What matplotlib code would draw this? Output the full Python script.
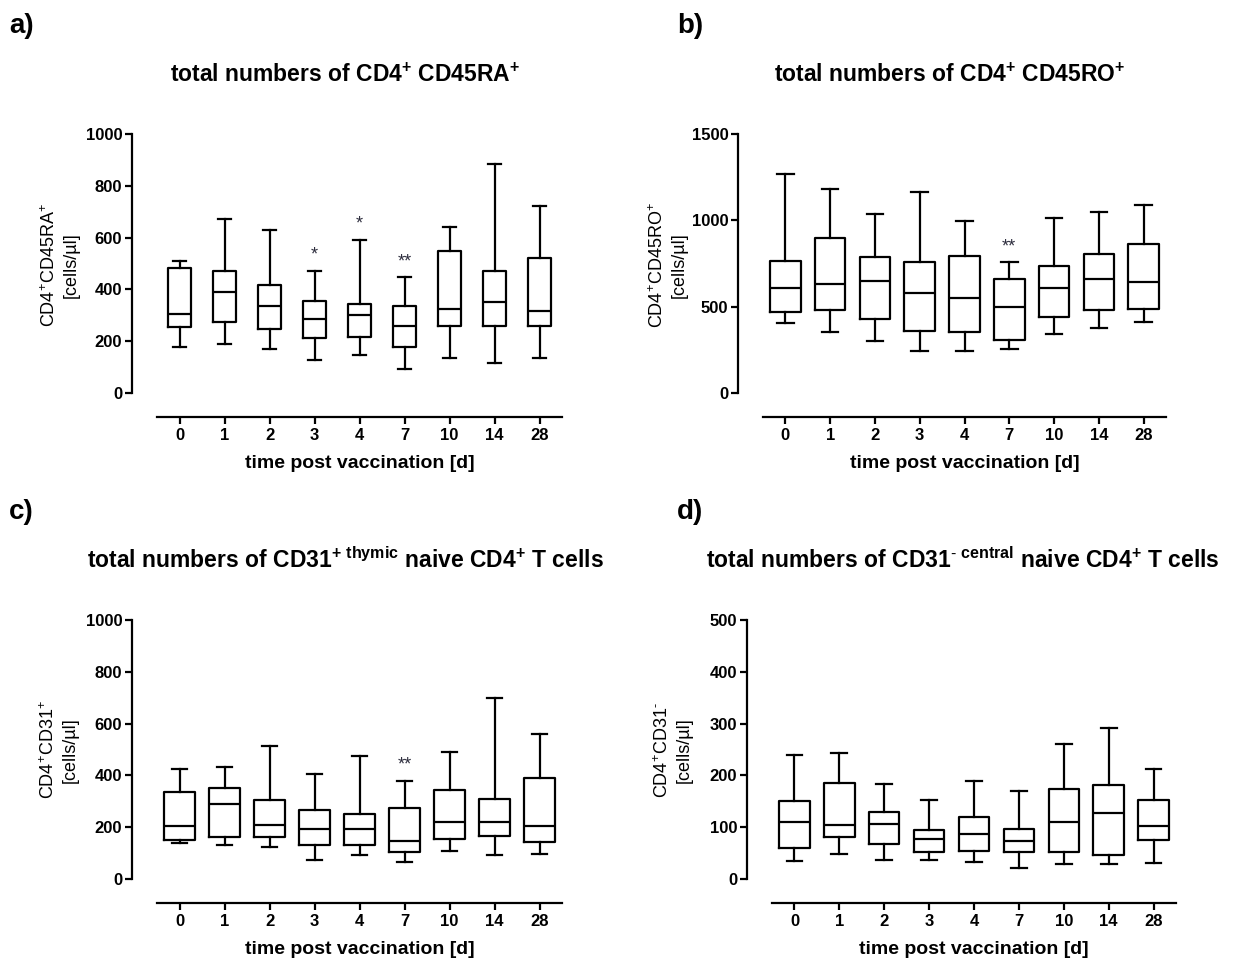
import matplotlib
matplotlib.use("Agg")
import matplotlib.pyplot as plt

plt.rcParams['font.family'] = ['Liberation Sans', 'DejaVu Sans']
plt.rcParams['mathtext.fontset'] = 'custom'
plt.rcParams['mathtext.default'] = 'regular'
plt.rcParams['mathtext.rm'] = 'Liberation Sans'
plt.rcParams['mathtext.bf'] = 'Liberation Sans:bold'

# ---------------- data ----------------
days = ['0', '1', '2', '3', '4', '7', '10', '14', '28']

# a) CD4+ CD45RA+
a_low  = [176, 189, 171, 126, 148, 93, 134, 116, 134]
a_q1   = [254, 273, 248, 212, 216, 176, 257, 257, 257]
a_med  = [306, 390, 335, 287, 302, 260, 324, 350, 315]
a_q3   = [483, 470, 418, 354, 345, 335, 550, 470, 521]
a_high = [511, 673, 628, 472, 592, 447, 640, 884, 721]
a_stars = ['', '', '', '*', '*', '**', '', '', '']

# b) CD4+ CD45RO+
b_low  = [405, 351, 299, 245, 245, 257, 342, 376, 411]
b_q1   = [467, 479, 431, 361, 353, 305, 438, 479, 486]
b_med  = [606, 633, 647, 579, 550, 496, 606, 662, 641]
b_q3   = [766, 898, 788, 757, 795, 662, 737, 807, 863]
b_high = [1270, 1183, 1039, 1164, 998, 757, 1014, 1046, 1087]
b_stars = ['', '', '', '', '', '**', '', '', '']

# c) CD31+ thymic naive CD4+
c_low  = [139, 132, 123, 75, 91, 64, 107, 91, 98]
c_q1   = [152, 161, 162, 132, 132, 104, 156, 165, 143]
c_med  = [203, 289, 207, 194, 194, 145, 219, 219, 203]
c_q3   = [334, 353, 306, 265, 252, 274, 342, 310, 389]
c_high = [425, 432, 514, 404, 473, 380, 492, 700, 560]
c_stars = ['', '', '', '', '', '**', '', '', '']

# d) CD31- central naive CD4+
d_low  = [35, 49, 37, 37, 33, 21, 28, 28, 31]
d_q1   = [60, 81, 68, 52, 55, 53, 53, 46, 76]
d_med  = [110, 104, 107, 77, 87, 73, 111, 128, 102]
d_q3   = [151, 186, 129, 95, 119, 97, 173, 181, 153]
d_high = [239, 244, 184, 153, 190, 169, 260, 291, 213]
d_stars = ['', '', '', '', '', '', '', '', '']

W, H = 1236, 959
fig = plt.figure(figsize=(W / 100, H / 100), dpi=100)


def px_axes(left, top, right, bottom):
    return fig.add_axes([left / W, 1 - bottom / H, (right - left) / W, (bottom - top) / H])


def draw_panel(ax, low, q1, med, q3, high, stars, ymax, ystep, width, capw):
    stats = []
    for i in range(len(days)):
        stats.append(dict(whislo=low[i], q1=q1[i], med=med[i], q3=q3[i],
                          whishi=high[i], fliers=[], label=days[i]))
    lw = 1.6
    ax.bxp(stats, positions=list(range(len(days))), widths=width, capwidths=capw,
           showfliers=False, patch_artist=False,
           boxprops=dict(color='black', linewidth=lw),
           medianprops=dict(color='black', linewidth=lw),
           whiskerprops=dict(color='black', linewidth=lw),
           capprops=dict(color='black', linewidth=lw))
    for i, s in enumerate(stars):
        if s:
            ax.annotate(s, xy=(i, high[i]), xytext=(0, 11), textcoords='offset points',
                        ha='center', va='center', fontsize=13, color='#2e2e3e')
    ax.set_xlim(-0.5, len(days) - 0.5)
    ax.set_ylim(0, ymax)
    ax.set_yticks(list(range(0, ymax + 1, ystep)))
    ax.set_xticks(list(range(len(days))))
    ax.set_xticklabels(days)
    for sp in ['top', 'right']:
        ax.spines[sp].set_visible(False)
    ax.spines['left'].set_position(('outward', 18))
    ax.spines['bottom'].set_position(('outward', 17))
    ax.spines['left'].set_linewidth(1.6)
    ax.spines['bottom'].set_linewidth(1.6)
    ax.tick_params(axis='both', width=1.6, length=5, labelsize=12)
    ax.tick_params(axis='y', pad=2)
    ax.tick_params(axis='x', pad=3)
    for lab in ax.get_xticklabels() + ax.get_yticklabels():
        lab.set_fontweight('bold')
    ax.set_xlabel('time post vaccination [d]', fontsize=14, fontweight='bold', labelpad=9)


axA = px_axes(157, 134, 562, 393)
axB = px_axes(763, 134, 1166, 393)
axC = px_axes(157, 620, 562, 879)
axD = px_axes(772, 620, 1176, 879)

draw_panel(axA, a_low, a_q1, a_med, a_q3, a_high, a_stars, 1000, 200, 0.5, 0.3)
draw_panel(axB, b_low, b_q1, b_med, b_q3, b_high, b_stars, 1500, 500, 0.68, 0.37)
draw_panel(axC, c_low, c_q1, c_med, c_q3, c_high, c_stars, 1000, 200, 0.68, 0.35)
draw_panel(axD, d_low, d_q1, d_med, d_q3, d_high, d_stars, 500, 100, 0.68, 0.35)


def ftext(x, y, s, **kw):
    fig.text(x / W, 1 - y / H, s, **kw)


# panel letters
for (x, y, s) in [(9, 33, 'a)'), (677, 33, 'b)'), (9, 519, 'c)'), (677, 519, 'd)')]:
    ftext(x, y, s, fontsize=20, fontweight='bold', ha='left', va='baseline')

# titles
TS = 16.5
ftext(345, 82, 'total numbers of CD4$^{+}$ CD45RA$^{+}$', fontsize=TS, fontweight='bold',
      ha='center', va='baseline')
ftext(950, 82, 'total numbers of CD4$^{+}$ CD45RO$^{+}$', fontsize=TS, fontweight='bold',
      ha='center', va='baseline')
ftext(345, 568, 'total numbers of CD31$^{+\\ thymic}$ naive CD4$^{+}$ T cells', fontsize=TS,
      fontweight='bold', ha='center', va='baseline')
ftext(963, 568, 'total numbers of CD31$^{\\text{-}\\ central}$ naive CD4$^{+}$ T cells', fontsize=TS,
      fontweight='bold', ha='center', va='baseline')

# y labels
ylabs = [(60, 265, 'CD4$^{+}$CD45RA$^{+}$\n[cells/µl]'),
         (668, 265, 'CD4$^{+}$CD45RO$^{+}$\n[cells/µl]'),
         (59, 750, 'CD4$^{+}$CD31$^{+}$\n[cells/µl]'),
         (673, 750, 'CD4$^{+}$CD31$^{\\text{-}}$\n[cells/µl]')]
for (x, y, s) in ylabs:
    ftext(x, y, s, fontsize=13, rotation=90, ha='center', va='center',
          multialignment='center', linespacing=1.3)

fig.savefig('out.png', dpi=100, facecolor='white')
